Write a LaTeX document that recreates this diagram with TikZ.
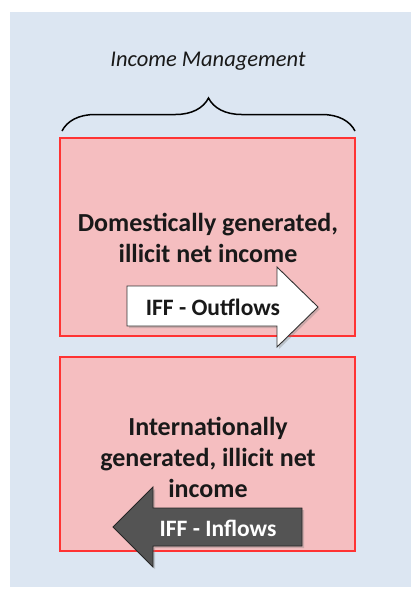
\documentclass[tikz,border=0pt]{standalone}
\usepackage{fontspec}
\setmainfont{Carlito}
\usetikzlibrary{decorations.pathreplacing,shadows}
\definecolor{bgblue}{HTML}{DCE6F2}
\definecolor{boxpink}{HTML}{F5BEC0}
\definecolor{boxred}{HTML}{FF3333}
\definecolor{darkarrow}{HTML}{545454}
\tikzset{
  incbox/.style={draw=boxred, fill=boxpink, line width=1.2pt},
  boxtext/.style={font=\bfseries\fontsize{26}{31}\selectfont, align=center, text=black!90},
  arrowtext/.style={font=\bfseries\fontsize{23.5}{27}\selectfont},
  bigarrow/.style={line width=0.9pt, line join=miter, drop shadow={shadow xshift=2pt, shadow yshift=-2pt, opacity=0.35}},
}
\begin{document}
\begin{tikzpicture}[x=1pt,y=-1pt]
\useasboundingbox (0,0) rectangle (411,589);
\fill[bgblue] (10,12) rectangle (411,587);
% title and brace
\node[font=\itshape\fontsize{22.5}{26}\selectfont, text=black!90] (title) at (208,61) {Income Management};
\coordinate (bl) at (62,131);
\coordinate (br) at (355,131);
\draw[line width=1.5pt, decorate, decoration={brace, amplitude=33pt, aspect=0.5}] (bl) -- (br);
% boxes
\draw[incbox] (60,138) rectangle (355,336);
\draw[incbox] (60,357) rectangle (355,551);
\node[boxtext] (dom) at (208,238) {Domestically generated,\\illicit net income};
\node[boxtext] (intl) at (208,457) {Internationally\\generated, illicit net\\income};
% outflow arrow
\draw[bigarrow, draw=black!80, fill=white]
  (127,286) -- (277,286) -- (277,267) -- (318,307) -- (277,347) -- (277,326) -- (127,326) -- cycle;
\node[arrowtext, text=black!90] (out) at (213,307) {IFF - Outflows};
% inflow arrow
\draw[bigarrow, draw=black!85, fill=darkarrow]
  (302,508) -- (153,508) -- (153,487) -- (113,527) -- (153,567) -- (153,546) -- (302,546) -- cycle;
\node[arrowtext, text=white] (in) at (218,528) {IFF - Inflows};
\end{tikzpicture}
\end{document}
